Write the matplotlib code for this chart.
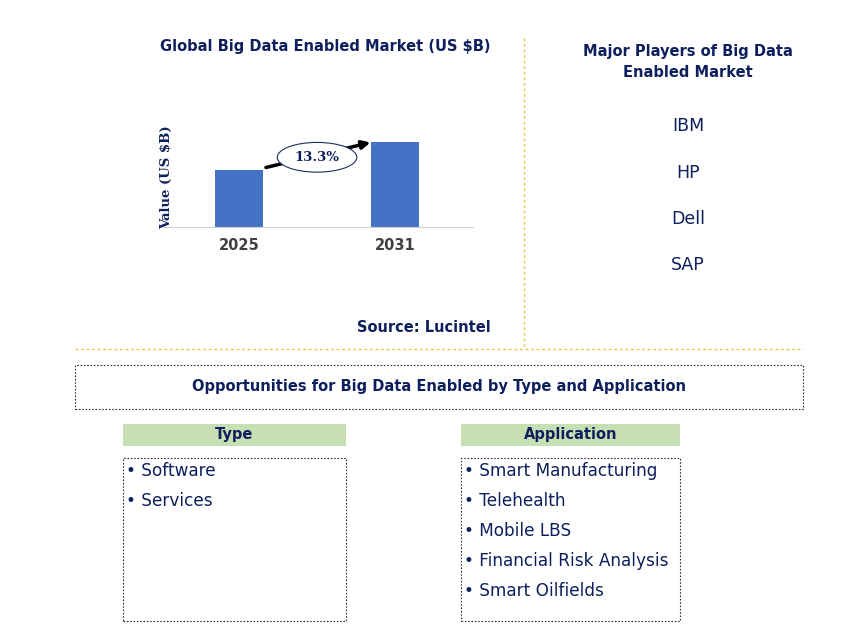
import matplotlib
matplotlib.use("Agg")
import matplotlib.pyplot as plt
from matplotlib.patches import Rectangle, Ellipse

years = ["2025", "2031"]
values = [100, 149]
cagr = "13.3%"
players = ["IBM", "HP", "Dell", "SAP"]
types = ["Software", "Services"]
applications = ["Smart Manufacturing", "Telehealth", "Mobile LBS", "Financial Risk Analysis", "Smart Oilfields"]

W, H = 868, 642
navy = "#0D1F5C"
fig = plt.figure(figsize=(W/100, H/100), dpi=100)

def fx(x): return x / W
def fy(y): return 1 - y / H

# bar chart
ax = fig.add_axes([fx(162), fy(227), fx(473-162), 100/H])
ax.bar([0, 1], values, width=0.31, color="#4472C4")
ax.set_xlim(-0.494, 1.5)
ax.set_ylim(0, 175)
ax.set_xticks([0, 1])
ax.set_xticklabels(years, fontsize=10.5, fontweight="bold", color="#404040")
ax.tick_params(length=0, pad=8)
ax.set_yticks([])
for s in ["top", "right", "left"]:
    ax.spines[s].set_visible(False)
ax.spines["bottom"].set_color("#D0D0D0")
ax.set_ylabel("Value (US $B)", fontsize=9.5, fontweight="bold", color=navy, family="DejaVu Serif", labelpad=-8)
ax.annotate("", xy=(0.86, 149), xytext=(0.155, 103),
            arrowprops=dict(arrowstyle="-|>", lw=2.5, color="black", mutation_scale=12), annotation_clip=False)
ax.add_patch(Ellipse((0.5, 122), 0.51, 52, facecolor="white", edgecolor="#1F2F5F", lw=0.8, zorder=5, clip_on=False))
ax.text(0.5, 122, cagr, ha="center", va="center", fontsize=9.5, fontweight="bold", color=navy,
        family="DejaVu Serif", zorder=6)

fig.text(fx(325), fy(46), "Global Big Data Enabled Market (US $B)", ha="center", va="center",
         fontsize=10.5, fontweight="bold", color=navy)
fig.text(fx(424), fy(328), "Source: Lucintel", ha="center", va="center", fontsize=10.5,
         fontweight="bold", color=navy)

# dividers
ycol = "#E8C547"
fig.add_artist(plt.Line2D([fx(524), fx(524)], [fy(38), fy(348)], color=ycol, lw=1, ls=(0, (2, 2))))
fig.add_artist(plt.Line2D([fx(75), fx(803)], [fy(349), fy(349)], color=ycol, lw=1, ls=(0, (2, 2))))

fig.text(fx(688), fy(62), "Major Players of Big Data\nEnabled Market", ha="center", va="center",
         fontsize=10.5, fontweight="bold", color=navy, linespacing=1.5)
for i, p in enumerate(players):
    fig.text(fx(688), fy(126 + 46.5 * i), p, ha="center", va="center", fontsize=12.5, color=navy)

# opportunities box
fig.add_artist(Rectangle((fx(75), fy(409)), fx(803-75), (409-365)/H, fill=False,
                         edgecolor="#333333", lw=0.8, ls=(0, (1.5, 1.5))))
fig.text(fx(439), fy(387), "Opportunities for Big Data Enabled by Type and Application",
         ha="center", va="center", fontsize=10.5, fontweight="bold", color=navy)

green = "#C6E0B4"
def section(x0, x1, title, items):
    fig.add_artist(Rectangle((fx(x0), fy(446)), fx(x1-x0), 22/H, facecolor=green, edgecolor="none"))
    fig.text(fx((x0+x1)/2), fy(435), title, ha="center", va="center", fontsize=10.5,
             fontweight="bold", color=navy)
    fig.add_artist(Rectangle((fx(x0), fy(621)), fx(x1-x0), (621-458)/H, fill=False,
                             edgecolor="#333333", lw=0.8, ls=(0, (1.5, 1.5))))
    for i, t in enumerate(items):
        fig.text(fx(x0 + 3), fy(471 + 30 * i), "\u2022 " + t, ha="left", va="center",
                 fontsize=12.2, color=navy)

section(123, 346, "Type", types)
section(461, 680, "Application", applications)

fig.savefig("out.png", dpi=100)
